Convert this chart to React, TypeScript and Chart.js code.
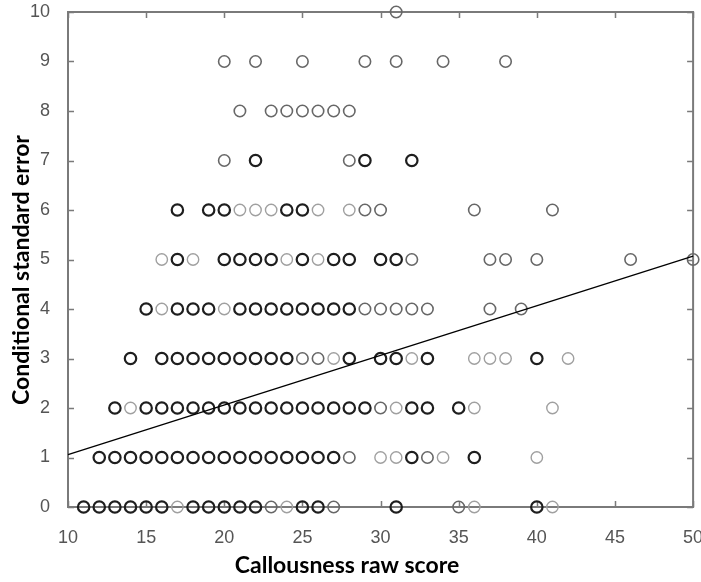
import React, { useEffect, useRef } from "react";
import { Chart, registerables } from "chart.js";

Chart.register(...registerables);

const xTicks = [10, 15, 20, 25, 30, 35, 40, 45, 50];
const yTicks = [0, 1, 2, 3, 4, 5, 6, 7, 8, 9, 10];

const xTitle = "Callousness raw score";
const yTitle = "Conditional standard error";

// circles where many cases overlap (drawn dark)
const darkPoints: [number, number][] = [
  [11, 0], [12, 0], [13, 0], [14, 0], [15, 0], [16, 0], [18, 0], [19, 0], [20, 0], [21, 0], [22, 0], [25, 0], [26, 0], [31, 0], [40, 0],
  [12, 1], [13, 1], [14, 1], [15, 1], [16, 1], [17, 1], [18, 1], [19, 1], [20, 1], [21, 1], [22, 1], [23, 1], [24, 1], [25, 1], [26, 1], [27, 1], [32, 1], [36, 1],
  [13, 2], [15, 2], [16, 2], [17, 2], [18, 2], [19, 2], [20, 2], [21, 2], [22, 2], [23, 2], [24, 2], [25, 2], [26, 2], [27, 2], [28, 2], [29, 2], [32, 2], [33, 2], [35, 2],
  [14, 3], [16, 3], [17, 3], [18, 3], [19, 3], [20, 3], [21, 3], [22, 3], [23, 3], [24, 3], [28, 3], [30, 3], [31, 3], [33, 3], [40, 3],
  [15, 4], [17, 4], [18, 4], [19, 4], [21, 4], [22, 4], [23, 4], [24, 4], [25, 4], [26, 4], [27, 4], [28, 4],
  [17, 5], [20, 5], [21, 5], [22, 5], [23, 5], [25, 5], [27, 5], [28, 5], [30, 5], [31, 5],
  [17, 6], [19, 6], [20, 6], [24, 6], [25, 6],
  [22, 7], [29, 7], [32, 7],
];

// circles with a few cases (medium grey)
const midPoints: [number, number][] = [
  [23, 0], [27, 0], [35, 0],
  [28, 1], [33, 1],
  [30, 2],
  [25, 3], [26, 3],
  [29, 4], [30, 4], [31, 4], [32, 4], [33, 4], [37, 4], [39, 4],
  [32, 5], [37, 5], [38, 5], [40, 5], [46, 5], [50, 5],
  [29, 6], [30, 6], [36, 6], [41, 6],
  [20, 7], [28, 7],
  [21, 8], [23, 8], [24, 8], [25, 8], [26, 8], [27, 8], [28, 8],
  [20, 9], [22, 9], [25, 9], [29, 9], [31, 9], [34, 9], [38, 9],
  [31, 10],
];

// single cases (light grey)
const lightPoints: [number, number][] = [
  [17, 0], [24, 0], [36, 0], [41, 0],
  [30, 1], [31, 1], [34, 1], [40, 1],
  [14, 2], [31, 2], [36, 2], [41, 2],
  [27, 3], [32, 3], [36, 3], [37, 3], [38, 3], [42, 3],
  [16, 4], [20, 4],
  [16, 5], [18, 5], [24, 5], [26, 5],
  [21, 6], [22, 6], [23, 6], [26, 6], [28, 6],
];

// least-squares fit line end points
const fitLine: [number, number][] = [
  [10, 1.06],
  [50, 5.07],
];

const toXY = (arr: [number, number][]) => arr.map(([x, y]) => ({ x, y }));

const framePlugin = {
  id: "frame",
  beforeDatasetsDraw(chart: any) {
    const { ctx, chartArea, scales } = chart;
    const { left, right, top, bottom } = chartArea;
    const tl = 6;
    ctx.save();
    ctx.strokeStyle = "#7a7a7a";
    ctx.lineWidth = 1.5;
    ctx.beginPath();
    xTicks.forEach((v) => {
      const px = Math.round(scales.x.getPixelForValue(v)) + 0.5;
      ctx.moveTo(px, bottom);
      ctx.lineTo(px, bottom - tl);
      ctx.moveTo(px, top);
      ctx.lineTo(px, top + tl);
    });
    yTicks.forEach((v) => {
      const py = Math.round(scales.y.getPixelForValue(v)) + 0.5;
      ctx.moveTo(left, py);
      ctx.lineTo(left + tl, py);
      ctx.moveTo(right, py);
      ctx.lineTo(right - tl, py);
    });
    ctx.stroke();
    ctx.lineWidth = 2;
    ctx.strokeRect(left, top, right - left, bottom - top);
    ctx.restore();
  },
  afterDraw(chart: any) {
    const { ctx } = chart;
    ctx.save();
    ctx.fillStyle = "#000";
    ctx.font = "bold 23px Lato, 'Open Sans', sans-serif";
    ctx.textAlign = "center";
    ctx.textBaseline = "alphabetic";
    ctx.fillText(xTitle, 347, 573);
    ctx.translate(29, 270);
    ctx.rotate(-Math.PI / 2);
    ctx.fillText(yTitle, 0, 0);
    ctx.restore();
  },
};

export default function App() {
  const canvasRef = useRef<HTMLCanvasElement | null>(null);

  useEffect(() => {
    document.body.style.margin = "0";
    const canvas = canvasRef.current;
    if (!canvas) return;
    const pointDs = (pts: [number, number][], color: string, bw: number) => ({
      data: toXY(pts),
      pointRadius: 5.7,
      pointHoverRadius: 5.7,
      pointStyle: "circle",
      borderColor: color,
      backgroundColor: "rgba(0,0,0,0)",
      borderWidth: bw,
      showLine: false,
      clip: false,
    });
    const chart = new Chart(canvas, {
      type: "scatter",
      data: {
        datasets: [
          {
            data: toXY(fitLine),
            showLine: true,
            borderColor: "#000",
            borderWidth: 1.3,
            pointRadius: 0,
            fill: false,
            clip: false,
          } as any,
          pointDs(darkPoints, "#1e1e1e", 2.2),
          pointDs(midPoints, "#676767", 1.6),
          pointDs(lightPoints, "#a0a0a0", 1.4),
        ],
      },
      options: {
        animation: false,
        responsive: false,
        events: [],
        layout: { padding: { top: 12, right: 7, left: 0, bottom: 0 } },
        plugins: {
          legend: { display: false },
          tooltip: { enabled: false },
        },
        scales: {
          x: {
            type: "linear",
            min: 10,
            max: 50,
            grid: { display: false },
            border: { display: false },
            afterBuildTicks: (scale: any) => {
              scale.ticks = xTicks.map((v) => ({ value: v }));
            },
            afterFit: (scale: any) => {
              scale.height = 75;
              scale.paddingLeft = 0;
              scale.paddingRight = 0;
            },
            ticks: {
              padding: 12,
              color: "#555",
              font: { family: "'Liberation Sans', Arial, sans-serif", size: 18 },
              maxRotation: 0,
              autoSkip: false,
            },
          },
          y: {
            type: "linear",
            min: 0,
            max: 10,
            grid: { display: false },
            border: { display: false },
            afterBuildTicks: (scale: any) => {
              scale.ticks = yTicks.map((v) => ({ value: v }));
            },
            afterFit: (scale: any) => {
              scale.width = 68;
              scale.paddingTop = 0;
              scale.paddingBottom = 0;
            },
            ticks: {
              padding: 10,
              color: "#555",
              font: { family: "'Liberation Sans', Arial, sans-serif", size: 18 },
              autoSkip: false,
            },
          },
        },
      },
      plugins: [framePlugin],
    } as any);
    return () => chart.destroy();
  }, []);

  return (
    <div style={{ width: 701, height: 582, position: "relative", background: "#fff" }}>
      <canvas ref={canvasRef} width={701} height={582} style={{ display: "block" }} />
    </div>
  );
}
